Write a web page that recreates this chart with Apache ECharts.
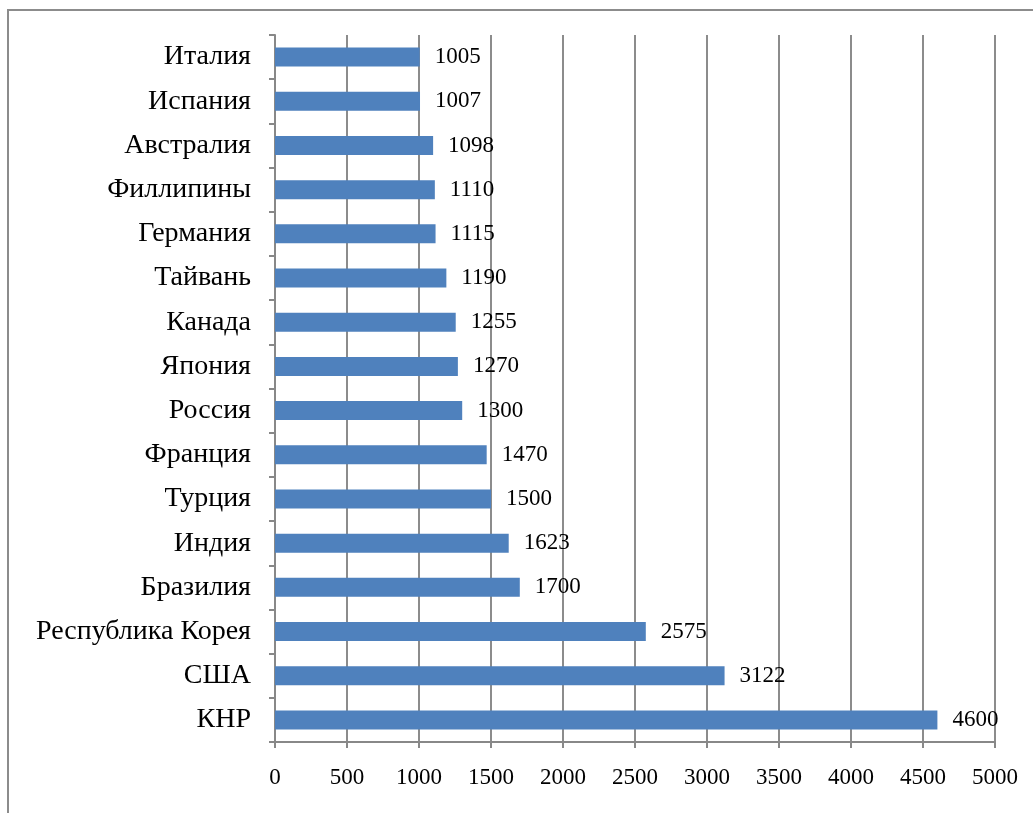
<!DOCTYPE html>
<html><head><meta charset="utf-8">
<script src="https://cdn.jsdelivr.net/npm/echarts@6/dist/echarts.min.js"></script>
<style>html,body{margin:0;padding:0;background:#fff}#c{width:1033px;height:813px}</style>
</head><body><div id="c"></div>
<script>
const categories = ['КНР','США','Республика Корея','Бразилия','Индия','Турция','Франция','Россия','Япония','Канада','Тайвань','Германия','Филлипины','Австралия','Испания','Италия'];
const values = [4600,3122,2575,1700,1623,1500,1470,1300,1270,1255,1190,1115,1110,1098,1007,1005];
const xTicks = {min:0, max:5000, interval:500};

const chart = echarts.init(document.getElementById('c'), null, {renderer:'canvas'});
const font = '"Liberation Serif","Times New Roman",serif';
chart.setOption({
  animation:false,
  backgroundColor:'#fff',
  graphic:[{type:'polyline', shape:{points:[[8,813],[8,10],[1033,10]]}, style:{stroke:'#8c8c8c', lineWidth:2, fill:null}}],
  grid:{left:275, right:38, top:35, bottom:71, containLabel:false},
  xAxis:{type:'value', min:xTicks.min, max:xTicks.max, interval:xTicks.interval,
    axisLine:{show:true, lineStyle:{color:'#888', width:2}},
    axisTick:{show:true, length:6, lineStyle:{color:'#888', width:2}},
    splitLine:{show:true, lineStyle:{color:'#8c8c8c', width:2}},
    axisLabel:{color:'#000', fontFamily:font, fontSize:23, margin:24, formatter:v=>String(v)}},
  yAxis:{type:'category', data:categories,
    axisLine:{show:true, lineStyle:{color:'#888', width:2}},
    axisTick:{show:true, length:6, lineStyle:{color:'#888', width:2}},
    axisLabel:{color:'#000', fontFamily:font, fontSize:28, margin:24},
    splitLine:{show:false}},
  series:[{type:'bar', data:values, barCategoryGap:'57%',
    itemStyle:{color:'#4F81BD'},
    label:{show:true, position:'right', distance:15, color:'#000', fontFamily:font, fontSize:23}}]
});
</script></body></html>
